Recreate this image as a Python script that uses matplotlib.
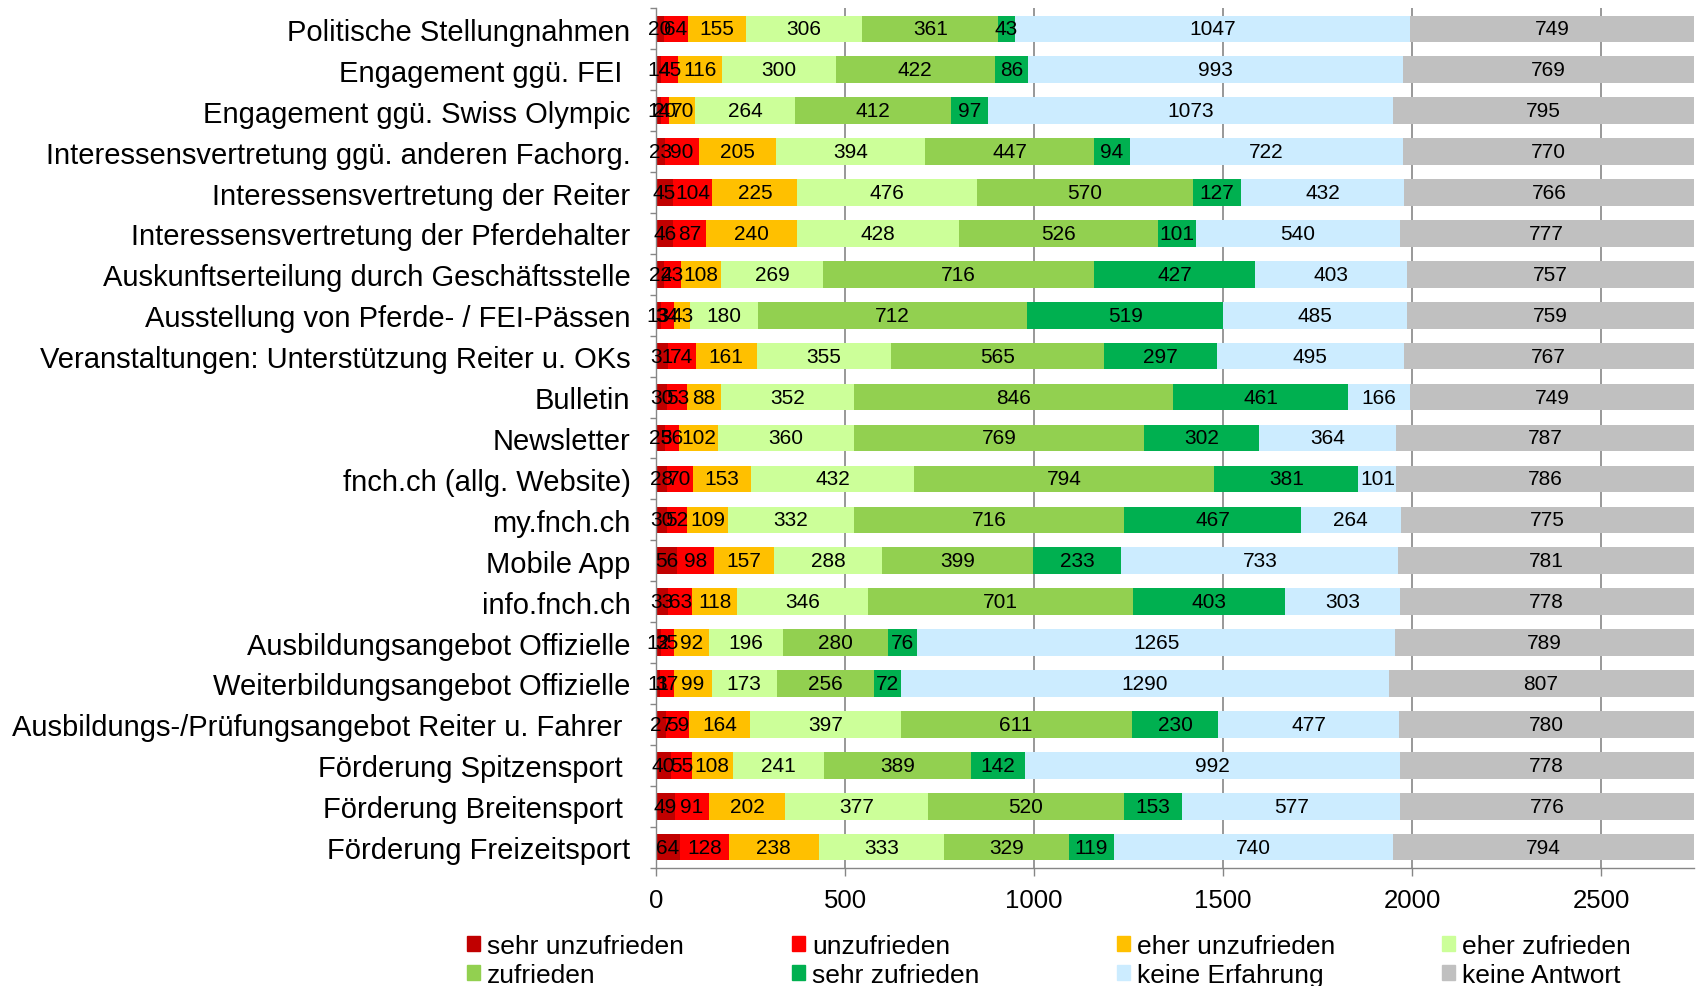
import matplotlib.pyplot as plt
from matplotlib.patches import Patch
from matplotlib.ticker import FixedLocator

# Zufriedenheit mit den Leistungen (Anzahl Antworten je Kategorie)
kategorien = [
    "Politische Stellungnahmen",
    "Engagement ggü. FEI ",
    "Engagement ggü. Swiss Olympic",
    "Interessensvertretung ggü. anderen Fachorg.",
    "Interessensvertretung der Reiter",
    "Interessensvertretung der Pferdehalter",
    "Auskunftserteilung durch Geschäftsstelle",
    "Ausstellung von Pferde- / FEI-Pässen",
    "Veranstaltungen: Unterstützung Reiter u. OKs",
    "Bulletin",
    "Newsletter",
    "fnch.ch (allg. Website)",
    "my.fnch.ch",
    "Mobile App",
    "info.fnch.ch",
    "Ausbildungsangebot Offizielle",
    "Weiterbildungsangebot Offizielle",
    "Ausbildungs-/Prüfungsangebot Reiter u. Fahrer ",
    "Förderung Spitzensport ",
    "Förderung Breitensport ",
    "Förderung Freizeitsport",
]

sehr_unzufrieden = [20, 14, 14, 23, 45, 46, 22, 13, 31, 30, 25, 28, 30, 56, 33, 12, 11, 27, 40, 49, 64]
unzufrieden = [64, 45, 20, 90, 104, 87, 43, 34, 74, 53, 36, 70, 52, 98, 63, 35, 37, 59, 55, 91, 128]
eher_unzufrieden = [155, 116, 70, 205, 225, 240, 108, 43, 161, 88, 102, 153, 109, 157, 118, 92, 99, 164, 108, 202, 238]
eher_zufrieden = [306, 300, 264, 394, 476, 428, 269, 180, 355, 352, 360, 432, 332, 288, 346, 196, 173, 397, 241, 377, 333]
zufrieden = [361, 422, 412, 447, 570, 526, 716, 712, 565, 846, 769, 794, 716, 399, 701, 280, 256, 611, 389, 520, 329]
sehr_zufrieden = [43, 86, 97, 94, 127, 101, 427, 519, 297, 461, 302, 381, 467, 233, 403, 76, 72, 230, 142, 153, 119]
keine_erfahrung = [1047, 993, 1073, 722, 432, 540, 403, 485, 495, 166, 364, 101, 264, 733, 303, 1265, 1290, 477, 992, 577, 740]
keine_antwort = [749, 769, 795, 770, 766, 777, 757, 759, 767, 749, 787, 786, 775, 781, 778, 789, 807, 780, 778, 776, 794]

serien = [
    ("sehr unzufrieden", sehr_unzufrieden, "#C00000"),
    ("unzufrieden", unzufrieden, "#FF0000"),
    ("eher unzufrieden", eher_unzufrieden, "#FFC000"),
    ("eher zufrieden", eher_zufrieden, "#CCFF99"),
    ("zufrieden", zufrieden, "#92D050"),
    ("sehr zufrieden", sehr_zufrieden, "#00B050"),
    ("keine Erfahrung", keine_erfahrung, "#CCECFF"),
    ("keine Antwort", keine_antwort, "#C0C0C0"),
]

plt.rcParams['font.family'] = ['Liberation Sans', 'DejaVu Sans']
grau = "#868686"

fig = plt.figure(figsize=(16.99, 9.87), dpi=100)
ax = fig.add_axes([656 / 1699, 1 - 868.6 / 987, 1037.6 / 1699, 859.2 / 987])

y = list(range(len(kategorien)))
links = [0] * len(kategorien)
for name, werte, farbe in serien:
    bars = ax.barh(y, werte, left=links, height=0.65, color=farbe, label=name, zorder=2)
    ax.bar_label(bars, label_type='center', fontsize=15, color='black')
    links = [a + b for a, b in zip(links, werte)]

ax.set_xlim(0, 2745)
ax.set_ylim(len(kategorien) - 0.5, -0.5)
ax.set_xticks([0, 500, 1000, 1500, 2000, 2500])
ax.set_yticks(y)
ax.set_yticklabels(kategorien, fontsize=21)
ax.yaxis.set_minor_locator(FixedLocator([i - 0.5 for i in range(len(kategorien) + 1)]))
ax.tick_params(axis='y', which='major', length=0, pad=18.3)
ax.tick_params(axis='y', which='minor', length=4.5, width=1.0, color=grau)
ax.tick_params(axis='x', which='major', length=5.8, width=1.0, color=grau, pad=9, labelsize=18.5)

ax.grid(axis='x', color=grau, linewidth=1.2, zorder=0)
ax.set_axisbelow(True)
for s in ['top', 'right']:
    ax.spines[s].set_visible(False)
for s in ['left', 'bottom']:
    ax.spines[s].set_color(grau)
    ax.spines[s].set_linewidth(1.0)

# Legende: 4 Spalten, 2 Zeilen, zeilenweise angeordnet
spalten_x = [467, 792, 1117, 1442]
zeilen_y = [947, 976]
for i, (name, werte, farbe) in enumerate(serien):
    px = spalten_x[i % 4]
    py = zeilen_y[i // 4]
    leg = fig.legend(handles=[Patch(color=farbe, label=name)], loc='center left',
                     bbox_to_anchor=(px / 1699, 1 - py / 987), frameon=False,
                     fontsize=19, borderpad=0, borderaxespad=0,
                     handlelength=0.5, handleheight=0.5, handletextpad=0.25)

fig.savefig("out.png", dpi=100)
